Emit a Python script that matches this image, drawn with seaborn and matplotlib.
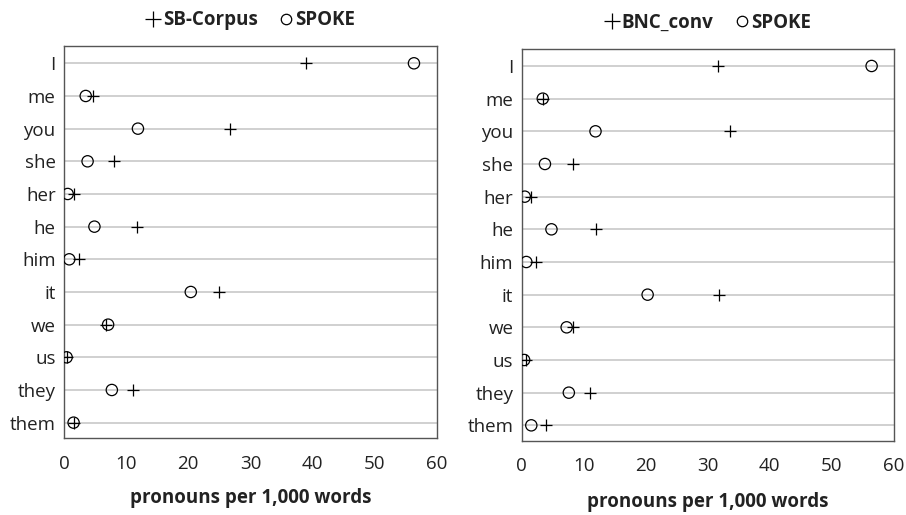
import matplotlib
matplotlib.use("Agg")
import matplotlib.pyplot as plt
from matplotlib.lines import Line2D
import pandas as pd
import seaborn as sns

# Personal pronoun frequencies (per 1,000 words)
pronouns = ["I", "me", "you", "she", "her", "he", "him", "it", "we", "us", "they", "them"]

sb_corpus = [38.9, 4.6, 26.7, 8.0, 1.6, 11.7, 2.4, 24.9, 6.75, 0.5, 11.1, 1.6]
spoke_left = [56.3, 3.5, 11.9, 3.8, 0.6, 4.9, 0.85, 20.4, 7.1, 0.43, 7.7, 1.55]

bnc_conv = [31.7, 3.5, 33.6, 8.3, 1.5, 12.0, 2.25, 31.8, 8.2, 0.65, 11.0, 3.9]
spoke_right = [56.4, 3.4, 11.9, 3.75, 0.5, 4.8, 0.75, 20.3, 7.25, 0.4, 7.6, 1.55]

x_ticks = [0, 10, 20, 30, 40, 50, 60]
x_label = "pronouns per 1,000 words"

sns.set_theme(style="white")
plt.rcParams["font.family"] = ["Open Sans", "DejaVu Sans"]

fig = plt.figure(figsize=(9.06, 5.15), dpi=100)
ax_left = fig.add_axes([0.0706, 0.1495, 0.4117, 0.7612])
ax_right = fig.add_axes([0.5758, 0.1443, 0.4109, 0.7612])


def draw_panel(ax, ref_name, ref_values, spoke_values, label_pad):
    df = pd.DataFrame({"pronoun": pronouns, "ref": ref_values, "spoke": spoke_values})
    # horizontal guide line for every pronoun
    for p in pronouns:
        ax.axhline(p, color="#c4c4c4", lw=1.1, zorder=0)
    sns.scatterplot(data=df, x="spoke", y="pronoun", ax=ax, marker="o",
                    s=66, facecolors="none", edgecolor="black", linewidth=0.9,
                    zorder=3)
    sns.scatterplot(data=df, x="ref", y="pronoun", ax=ax, marker="+",
                    s=85, color="black", linewidth=0.9, zorder=3)
    ax.set_xlim(0, 60)
    ax.set_ylim(len(pronouns) - 0.53, -0.53)
    ax.set_xticks(x_ticks)
    ax.set_xticklabels([str(t) for t in x_ticks])
    ax.set_ylabel("")
    ax.set_xlabel(x_label, fontsize=13.5, fontweight="bold", labelpad=label_pad,
                  color="#222222")
    ax.tick_params(axis="both", length=0, labelsize=13.5, colors="#222222")
    ax.tick_params(axis="x", pad=12)
    ax.tick_params(axis="y", pad=6)
    for spine in ax.spines.values():
        spine.set_color("#555555")
        spine.set_linewidth(1.0)
    handles = [
        Line2D([], [], marker="+", color="black", linestyle="none",
               markersize=11, markeredgewidth=0.9),
        Line2D([], [], marker="o", color="black", markerfacecolor="none",
               linestyle="none", markersize=7.5, markeredgewidth=0.9),
    ]
    leg = ax.legend(handles, [ref_name, "SPOKE"], ncol=2, frameon=False,
                    loc="center", bbox_to_anchor=(0.5, 1.066),
                    handlelength=0.8, handletextpad=0.1, columnspacing=1.1,
                    prop={"weight": "bold", "size": 13.5})
    for t in leg.get_texts():
        t.set_color("#222222")


draw_panel(ax_left, "SB-Corpus", sb_corpus, spoke_left, 11)
draw_panel(ax_right, "BNC_conv", bnc_conv, spoke_right, 12)

fig.savefig("out.png", dpi=100)
